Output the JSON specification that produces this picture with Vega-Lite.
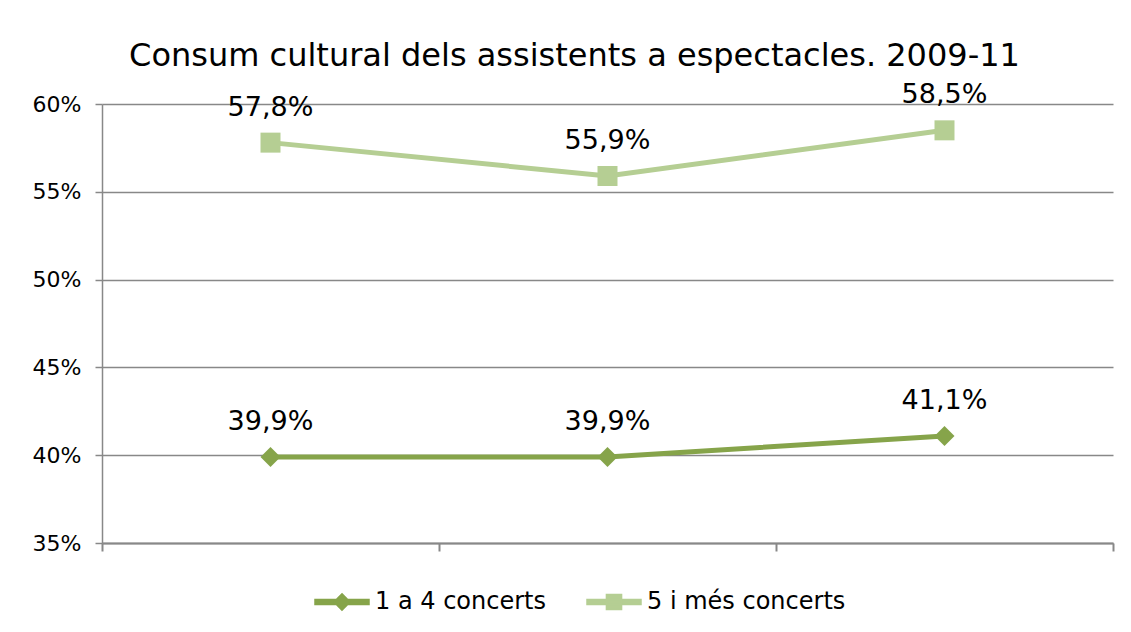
{
  "$schema": "https://vega.github.io/schema/vega-lite/v6.json",
  "width": 1011,
  "height": 439,
  "autosize": "none",
  "padding": {"left": 102, "top": 104, "right": 18, "bottom": 89},
  "background": "white",
  "config": {
    "locale": {"number": {"decimal": ",", "thousands": ".", "grouping": [3], "currency": ["", " €"]}},
    "font": "DejaVu Sans",
    "view": {"stroke": null}
  },
  "title": {
    "text": "Consum cultural dels assistents a espectacles. 2009-11",
    "fontSize": 32,
    "fontWeight": "normal",
    "font": "DejaVu Sans",
    "color": "black",
    "offset": 8,
    "dx": -33
  },
  "data": {
    "values": [
      {"year": 2009, "series": "1 a 4 concerts", "value": 0.399},
      {"year": 2010, "series": "1 a 4 concerts", "value": 0.399},
      {"year": 2011, "series": "1 a 4 concerts", "value": 0.411},
      {"year": 2009, "series": "5 i més concerts", "value": 0.578},
      {"year": 2010, "series": "5 i més concerts", "value": 0.559},
      {"year": 2011, "series": "5 i més concerts", "value": 0.585}
    ]
  },
  "encoding": {
    "x": {
      "field": "year",
      "type": "quantitative",
      "scale": {"domain": [2008.5, 2011.5], "nice": false, "zero": false},
      "axis": {
        "values": [2008.5, 2009.5, 2010.5, 2011.5],
        "labels": false,
        "title": null,
        "grid": false,
        "domainColor": "#888888",
        "domainWidth": 2,
        "tickColor": "#888888",
        "tickWidth": 2,
        "tickSize": 8
      }
    },
    "y": {
      "field": "value",
      "type": "quantitative",
      "scale": {"domain": [0.35, 0.6], "nice": false, "zero": false},
      "axis": {
        "values": [0.35, 0.4, 0.45, 0.5, 0.55, 0.6],
        "format": ".0%",
        "title": null,
        "labelFontSize": 22,
        "labelColor": "black",
        "labelPadding": 14,
        "tickSize": 7,
        "tickColor": "#888888",
        "tickWidth": 1.5,
        "domainColor": "#888888",
        "domainWidth": 1.5,
        "gridColor": "#888888",
        "gridWidth": 1.5
      }
    }
  },
  "layer": [
    {
      "mark": {"type": "line", "strokeWidth": 5},
      "encoding": {
        "color": {
          "field": "series",
          "type": "nominal",
          "scale": {"domain": ["1 a 4 concerts", "5 i més concerts"], "range": ["#86A44A", "#B5CE93"]},
          "legend": {
            "orient": "none",
            "legendX": 212,
            "legendY": 470,
            "direction": "horizontal",
            "title": null,
            "labelFontSize": 24,
            "labelColor": "black",
            "labelOffset": 5,
            "labelLimit": 0,
            "symbolSize": 2916,
            "symbolType": "M-1,-0.09H1V0.09H-1Z",
            "columnPadding": 38,
            "encode": {
              "symbols": {
                "update": {
                  "shape": {"signal": "datum.value === '1 a 4 concerts' ? 'M-1,-0.09H1V0.09H-1Z M0,-0.3L0.3,0L0,0.3L-0.3,0Z' : 'M-1,-0.09H1V0.09H-1Z M-0.28,-0.28H0.28V0.28H-0.28Z'"},
                  "fill": {"signal": "datum.value === '1 a 4 concerts' ? '#86A44A' : '#B5CE93'"},
                  "stroke": {"value": "transparent"},
                  "opacity": {"value": 1}
                }
              }
            }
          }
        }
      }
    },
    {
      "transform": [{"filter": "datum.series === '1 a 4 concerts'"}],
      "mark": {"type": "point", "filled": true, "opacity": 1, "shape": "diamond", "size": 400, "color": "#86A44A"}
    },
    {
      "transform": [{"filter": "datum.series === '5 i més concerts'"}],
      "mark": {"type": "point", "filled": true, "opacity": 1, "shape": "square", "size": 400, "color": "#B5CE93"}
    },
    {
      "mark": {"type": "text", "dy": -35, "fontSize": 27, "baseline": "middle", "color": "black"},
      "encoding": {
        "text": {"field": "value", "type": "quantitative", "format": ".1%"}
      }
    }
  ]
}
